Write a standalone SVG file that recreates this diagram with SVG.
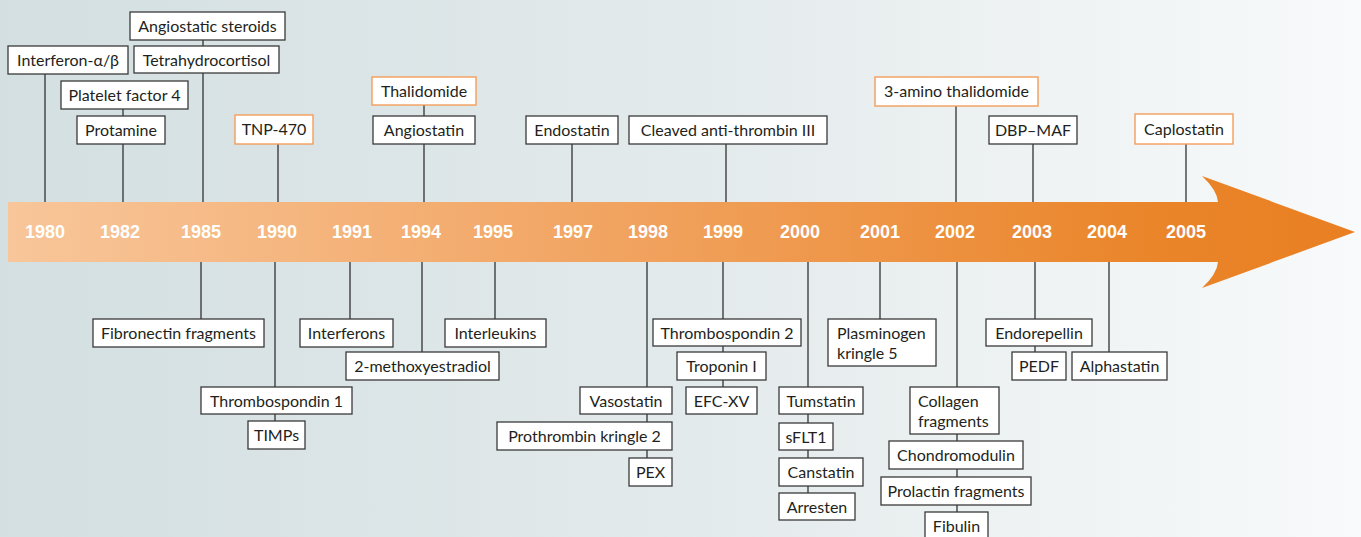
<svg xmlns="http://www.w3.org/2000/svg" width="1361" height="537" viewBox="0 0 1361 537">
<defs>
<linearGradient id="bg" x1="0" y1="0" x2="1361" y2="0" gradientUnits="userSpaceOnUse">
<stop offset="0" stop-color="#d3dfe1"/>
<stop offset="0.5" stop-color="#e3eaeb"/>
<stop offset="1" stop-color="#f8fafb"/>
</linearGradient>
<linearGradient id="bar" x1="8" y1="0" x2="1355" y2="0" gradientUnits="userSpaceOnUse">
<stop offset="0" stop-color="#f8c69a"/>
<stop offset="0.47" stop-color="#f1a25e"/>
<stop offset="0.85" stop-color="#ea852a"/>
<stop offset="1" stop-color="#e97f22"/>
</linearGradient>
</defs>
<style>
.box{fill:#ffffff;stroke:#3a3a3a;stroke-width:1.3}
.obox{fill:#ffffff;stroke:#f29d5a;stroke-width:1.4}
.t{font-family:Lato,"Liberation Sans",sans-serif;font-size:16px;fill:#231f20;text-anchor:middle}
.tl{font-family:Lato,"Liberation Sans",sans-serif;font-size:16px;fill:#231f20}
.yr{font-family:"Liberation Sans",Arial,sans-serif;font-size:18px;font-weight:bold;fill:#ffffff;text-anchor:middle}
.ln{stroke:#333333;stroke-width:1.3;fill:none}
</style>
<rect x="0" y="0" width="1361" height="537" fill="url(#bg)"/>
<g id="connectors">
<path class="ln" d="M45,74V202 M203,40V46 M203,73V202 M123,109V116 M123,144V202 M278,144V202 M424,105V116 M424,144V202 M572,144V202 M726,144V202 M956,106V202 M1033,144V202 M1186,144V202"/>
<path class="ln" d="M201,262V319 M275,262V387 M275,414V421 M350,262V319 M422,262V352 M495,262V319 M647,262V387 M647,414V422 M647,450V458 M723,262V319 M723,346V352 M723,380V387 M808,262V493 M880,262V319 M957,262V387 M957,434V441 M957,469V477 M957,505V512 M1035,262V319 M1035,346V352 M1109,262V352"/>
</g>
<g id="timeline">
<path d="M8,202H1218Q1217,190 1202,176L1355,232L1202,288Q1217,274 1218,262H8Z" fill="url(#bar)"/>
<text class="yr" x="45" y="238">1980</text>
<text class="yr" x="120" y="238">1982</text>
<text class="yr" x="201" y="238">1985</text>
<text class="yr" x="277" y="238">1990</text>
<text class="yr" x="352" y="238">1991</text>
<text class="yr" x="421" y="238">1994</text>
<text class="yr" x="493" y="238">1995</text>
<text class="yr" x="573" y="238">1997</text>
<text class="yr" x="648" y="238">1998</text>
<text class="yr" x="723" y="238">1999</text>
<text class="yr" x="800" y="238">2000</text>
<text class="yr" x="880" y="238">2001</text>
<text class="yr" x="955" y="238">2002</text>
<text class="yr" x="1032" y="238">2003</text>
<text class="yr" x="1107" y="238">2004</text>
<text class="yr" x="1186" y="238">2005</text>
</g>
<g id="n-interferon-ab"><rect class="box" x="8" y="46" width="120" height="28"/><text class="t" x="68" y="66">Interferon-α/β</text></g>
<g id="n-angiostatic-steroids"><rect class="box" x="130" y="12" width="155" height="28"/><text class="t" x="207.5" y="32">Angiostatic steroids</text></g>
<g id="n-tetrahydrocortisol"><rect class="box" x="134" y="46" width="145" height="27"/><text class="t" x="206.5" y="66">Tetrahydrocortisol</text></g>
<g id="n-platelet-factor-4"><rect class="box" x="61" y="81" width="127" height="28"/><text class="t" x="124.5" y="101">Platelet factor 4</text></g>
<g id="n-protamine"><rect class="box" x="77" y="116" width="88" height="28"/><text class="t" x="121" y="136">Protamine</text></g>
<g id="n-tnp-470"><rect class="obox" x="235" y="115" width="78" height="29"/><text class="t" x="274" y="135">TNP-470</text></g>
<g id="n-thalidomide"><rect class="obox" x="372" y="77" width="104" height="28"/><text class="t" x="424" y="97">Thalidomide</text></g>
<g id="n-angiostatin"><rect class="box" x="373" y="116" width="102" height="28"/><text class="t" x="424" y="136">Angiostatin</text></g>
<g id="n-endostatin"><rect class="box" x="526" y="116" width="92" height="28"/><text class="t" x="572" y="136">Endostatin</text></g>
<g id="n-cleaved-antithrombin"><rect class="box" x="629" y="116" width="198" height="28"/><text class="t" x="728" y="136">Cleaved anti-thrombin III</text></g>
<g id="n-3-amino-thalidomide"><rect class="obox" x="875" y="77" width="163" height="29"/><text class="t" x="956.5" y="97">3-amino thalidomide</text></g>
<g id="n-dbp-maf"><rect class="box" x="989" y="116" width="88" height="28"/><text class="t" x="1033" y="136">DBP–MAF</text></g>
<g id="n-caplostatin"><rect class="obox" x="1135" y="114" width="98" height="30"/><text class="t" x="1184" y="135">Caplostatin</text></g>
<g id="n-fibronectin"><rect class="box" x="93" y="319" width="171" height="28"/><text class="t" x="178.5" y="339">Fibronectin fragments</text></g>
<g id="n-thrombospondin-1"><rect class="box" x="201" y="387" width="151" height="27"/><text class="t" x="276.5" y="407">Thrombospondin 1</text></g>
<g id="n-timps"><rect class="box" x="248" y="421" width="57" height="28"/><text class="t" x="276.5" y="441">TIMPs</text></g>
<g id="n-interferons"><rect class="box" x="300" y="319" width="93" height="28"/><text class="t" x="346.5" y="339">Interferons</text></g>
<g id="n-2-methoxyestradiol"><rect class="box" x="346" y="352" width="153" height="28"/><text class="t" x="422.5" y="372">2-methoxyestradiol</text></g>
<g id="n-interleukins"><rect class="box" x="445" y="319" width="101" height="28"/><text class="t" x="495.5" y="339">Interleukins</text></g>
<g id="n-vasostatin"><rect class="box" x="580" y="387" width="92" height="27"/><text class="t" x="626" y="407">Vasostatin</text></g>
<g id="n-prothrombin-kringle-2"><rect class="box" x="497" y="422" width="175" height="28"/><text class="t" x="584.5" y="442">Prothrombin kringle 2</text></g>
<g id="n-pex"><rect class="box" x="629" y="458" width="43" height="28"/><text class="t" x="650.5" y="478">PEX</text></g>
<g id="n-thrombospondin-2"><rect class="box" x="653" y="319" width="148" height="27"/><text class="t" x="727" y="339">Thrombospondin 2</text></g>
<g id="n-troponin-i"><rect class="box" x="677" y="352" width="89" height="28"/><text class="t" x="721.5" y="372">Troponin I</text></g>
<g id="n-efc-xv"><rect class="box" x="686" y="387" width="71" height="27"/><text class="t" x="721.5" y="407">EFC-XV</text></g>
<g id="n-tumstatin"><rect class="box" x="779" y="387" width="84" height="27"/><text class="t" x="821" y="407">Tumstatin</text></g>
<g id="n-sflt1"><rect class="box" x="779" y="423" width="54" height="27"/><text class="t" x="806" y="443">sFLT1</text></g>
<g id="n-canstatin"><rect class="box" x="779" y="458" width="84" height="28"/><text class="t" x="821" y="478">Canstatin</text></g>
<g id="n-arresten"><rect class="box" x="779" y="493" width="76" height="27"/><text class="t" x="817" y="513">Arresten</text></g>
<g id="n-plasminogen-kringle-5"><rect class="box" x="828" y="319" width="108" height="47"/><text class="tl" x="837" y="339">Plasminogen</text><text class="tl" x="837" y="359">kringle 5</text></g>
<g id="n-collagen-fragments"><rect class="box" x="910" y="387" width="89" height="47"/><text class="tl" x="918" y="407">Collagen</text><text class="tl" x="918" y="427">fragments</text></g>
<g id="n-chondromodulin"><rect class="box" x="889" y="441" width="134" height="28"/><text class="t" x="956" y="461">Chondromodulin</text></g>
<g id="n-prolactin-fragments"><rect class="box" x="881" y="477" width="150" height="28"/><text class="t" x="956" y="497">Prolactin fragments</text></g>
<g id="n-fibulin"><rect class="box" x="925" y="512" width="63" height="30"/><text class="t" x="956.5" y="532">Fibulin</text></g>
<g id="n-endorepellin"><rect class="box" x="986" y="319" width="106" height="27"/><text class="t" x="1039" y="339">Endorepellin</text></g>
<g id="n-pedf"><rect class="box" x="1012" y="352" width="54" height="28"/><text class="t" x="1039" y="372">PEDF</text></g>
<g id="n-alphastatin"><rect class="box" x="1072" y="352" width="95" height="28"/><text class="t" x="1119.5" y="372">Alphastatin</text></g>
</svg>
